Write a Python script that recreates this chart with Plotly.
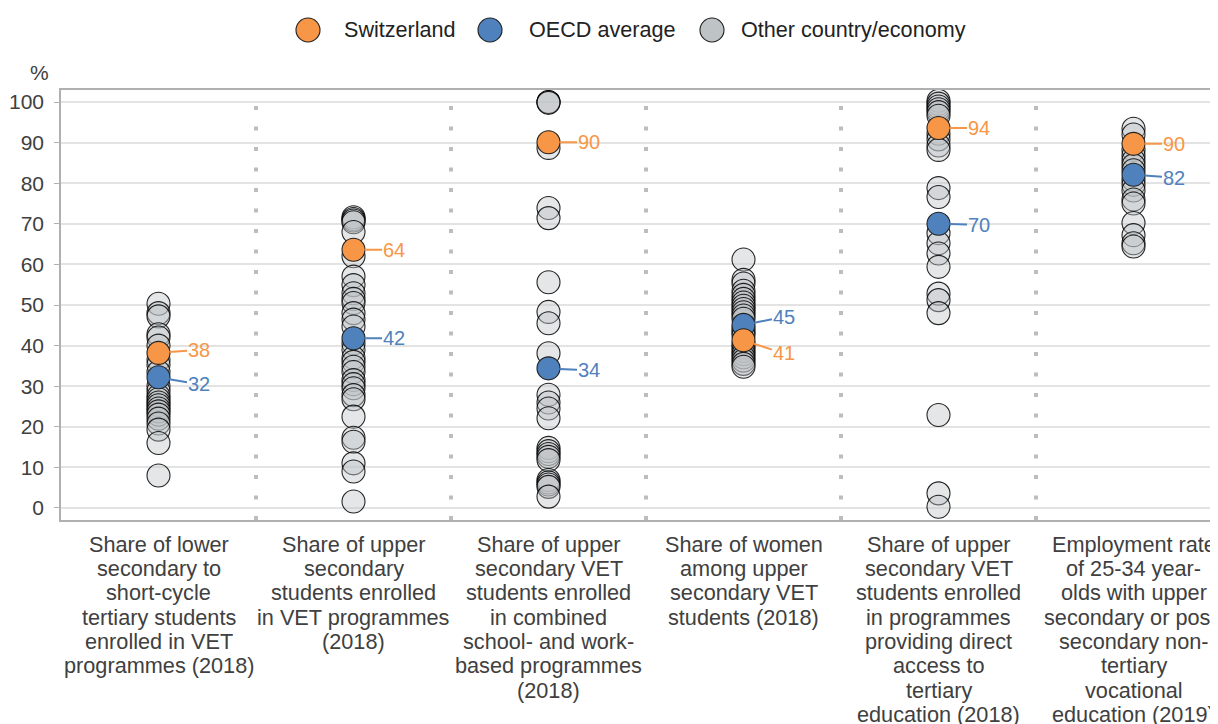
import plotly.graph_objects as go

# =========================================================
# DATA
# =========================================================

CATEGORY_LINES = [
    ["Share of lower", "secondary to", "short-cycle", "tertiary students",
     "enrolled in VET", "programmes (2018)"],
    ["Share of upper", "secondary", "students enrolled", "in VET programmes",
     "(2018)"],
    ["Share of upper", "secondary VET", "students enrolled", "in combined",
     "school- and work-", "based programmes", "(2018)"],
    ["Share of women", "among upper", "secondary VET", "students (2018)"],
    ["Share of upper", "secondary VET", "students enrolled", "in programmes",
     "providing direct", "access to", "tertiary", "education (2018)"],
    ["Employment rate", "of 25-34 year-", "olds with upper",
     "secondary or post-", "secondary non-", "tertiary", "vocational",
     "education (2019)"],
]

switzerland = [38.2, 63.6, 90.1, 41.3, 93.6, 89.7]
oecd_average = [32.2, 41.8, 34.4, 45.1, 70.0, 82.1]

others_1 = [50.3, 48.0, 47.2, 42.8, 42.0, 40.0, 36.5, 35.3, 33.5, 30.0, 28.8,
            27.6, 26.8, 26.0, 25.3, 24.5, 23.8, 23.0, 22.0, 20.8, 19.3, 16.0, 8.0]
others_2 = [71.6, 71.2, 70.8, 70.4, 68.0, 62.0, 57.0, 54.9, 52.9, 51.5, 50.5,
            48.0, 46.4, 44.7, 40.5, 39.0, 37.0, 36.0, 34.8, 33.5, 31.5, 30.5,
            29.5, 27.8, 26.8, 22.5, 17.3, 16.3, 11.0, 9.0, 1.6]
others_3 = [100.0, 100.0, 99.8, 88.7, 73.9, 71.4, 55.6, 48.3, 45.5, 38.1, 27.9,
            26.0, 24.5, 22.1, 14.8, 14.0, 13.3, 12.6, 11.8, 6.9, 6.3, 5.8, 5.2,
            2.8]
others_4 = [61.2, 56.2, 55.3, 53.5, 52.5, 51.5, 50.6, 49.8, 49.0, 48.2, 47.4,
            46.6, 44.2, 43.4, 42.6, 40.3, 39.5, 38.7, 37.9, 37.1, 36.3, 35.5,
            34.8]
others_5 = [100.3, 99.6, 98.9, 98.2, 97.5, 96.6, 92.2, 90.8, 89.3, 88.2, 78.8,
            76.6, 67.7, 65.2, 62.7, 59.4, 52.8, 51.2, 48.0, 22.9, 3.6, 0.3]
others_6 = [93.4, 92.0, 88.2, 86.8, 85.6, 84.4, 83.2, 80.8, 79.6, 78.2, 76.0,
            75.0, 70.2, 67.2, 65.2, 64.4]

others = [others_1, others_2, others_3, others_4, others_5, others_6]

# label offsets (px) for the value labels: (switzerland, oecd)
label_dy = [(-3, 7), (0, 0), (0, 2), (13, -8), (0, 1), (0, 3)]

y_ticks = list(range(0, 101, 10))

LEGEND_ITEMS = ["Switzerland", "OECD average", "Other country/economy"]

# =========================================================
# STYLE
# =========================================================

FONT = "Liberation Sans, Arial, sans-serif"
TXT = "#404040"
ORANGE = "#F79646"
BLUE = "#4F81BD"
GREY = "#BEC4C6"

# page body has an 8px margin, so the figure is drawn 8px smaller
OFF = 8
W, H = 1218 - OFF, 724 - OFF
ML, MT, MB = 61 - OFF, 90 - OFF, 204
PLOT_W = W - ML
PLOT_H = H - MT - MB
COL_W = 195


def px_x(px):
    # page pixel -> paper x
    return (px - OFF - ML) / PLOT_W


def px_y(py):
    # page pixel -> paper y
    return (H - MB - (py - OFF)) / PLOT_H


# =========================================================
# FIGURE
# =========================================================

fig = go.Figure()

ox, oy = [], []
for i, vals in enumerate(others):
    ox += [i] * len(vals)
    oy += vals

fig.add_trace(go.Scatter(
    x=ox, y=oy, mode="markers", name=LEGEND_ITEMS[2],
    marker=dict(size=23, color="rgba(190,196,198,0.42)",
                line=dict(color="rgba(0,0,0,0.85)", width=1.1)),
    showlegend=False,
))

cats = list(range(len(switzerland)))

fig.add_trace(go.Scatter(
    x=cats, y=oecd_average, mode="markers", name=LEGEND_ITEMS[1],
    marker=dict(size=23, color=BLUE, line=dict(color="#222", width=1.1)),
    showlegend=False,
))
fig.add_trace(go.Scatter(
    x=cats, y=switzerland, mode="markers", name=LEGEND_ITEMS[0],
    marker=dict(size=23, color=ORANGE, line=dict(color="#222", width=1.1)),
    showlegend=False,
))

annotations = []
for i in cats:
    for val, col, dy in ((switzerland[i], ORANGE, label_dy[i][0]),
                         (oecd_average[i], BLUE, label_dy[i][1])):
        annotations.append(dict(
            x=i, y=val, xref="x", yref="y", text=str(round(val)),
            showarrow=True, arrowhead=0, arrowwidth=2, arrowcolor=col,
            ax=40, ay=dy, standoff=11, borderpad=0,
            font=dict(family=FONT, size=20, color=col),
        ))

# category labels, one annotation per line for tight line spacing
for i, lines in enumerate(CATEGORY_LINES):
    for j, line in enumerate(lines):
        annotations.append(dict(
            x=i, y=0, xref="x", yref="paper", text=line, showarrow=False,
            xanchor="center", yanchor="middle", yshift=-24 - j * 24.35,
            font=dict(family=FONT, size=21.7, color=TXT),
        ))

annotations.append(dict(
    x=px_x(40), y=px_y(72), xref="paper", yref="paper", text="%",
    showarrow=False, xanchor="center", yanchor="middle",
    font=dict(family=FONT, size=21, color=TXT),
))

# custom legend with large symbols
shapes = []
legend_pos = [(308, 342, ORANGE), (490, 527, BLUE), (712, 739, GREY)]
for (cx, tx, col), name in zip(legend_pos, LEGEND_ITEMS):
    shapes.append(dict(
        type="circle", xref="paper", yref="paper", xsizemode="pixel",
        ysizemode="pixel", xanchor=px_x(cx), yanchor=px_y(30),
        x0=-12, x1=12, y0=-12, y1=12, fillcolor=col,
        line=dict(color="#222", width=1.1), layer="above",
    ))
    annotations.append(dict(
        x=px_x(tx), y=px_y(30), xref="paper", yref="paper", text=name,
        showarrow=False, xanchor="left", yanchor="middle",
        font=dict(family=FONT, size=21.6, color="#222"),
    ))

# dotted separators between categories
for k in range(len(cats) - 1):
    shapes.append(dict(
        type="line", xref="x", yref="paper", x0=k + 0.5, x1=k + 0.5,
        y0=0, y1=1, layer="below",
        line=dict(color="#BDBDBD", width=4, dash="4px,16.5px"),
    ))

fig.update_layout(
    width=W, height=H,
    margin=dict(l=ML, r=0, t=MT, b=MB),
    paper_bgcolor="white", plot_bgcolor="white",
    font=dict(family=FONT, size=21, color=TXT),
    showlegend=False,
    annotations=annotations,
    shapes=shapes,
)

fig.update_xaxes(
    range=[-0.5, -0.5 + PLOT_W / COL_W], showgrid=False, zeroline=False,
    showticklabels=False, ticks="", showline=True, linecolor="#B0B0B0",
    linewidth=1.5, mirror=True,
)
fig.update_yaxes(
    range=[-2.96, 102.96], tickvals=y_ticks, showgrid=True,
    gridcolor="#E3E3E3", gridwidth=1.5, zeroline=False, showline=True,
    linecolor="#B0B0B0", linewidth=1.5, ticks="outside", ticklen=5,
    tickcolor="#B0B0B0", ticklabelstandoff=6,
    tickfont=dict(family=FONT, size=21, color=TXT),
)

fig.write_html("out.html")
